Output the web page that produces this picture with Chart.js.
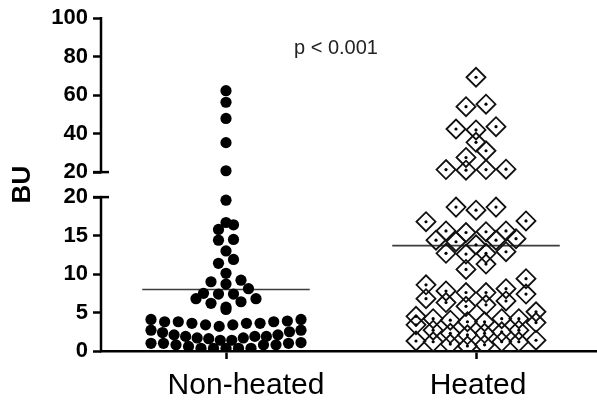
<!DOCTYPE html>
<html>
<head>
<meta charset="utf-8">
<script src="https://cdn.jsdelivr.net/npm/chart.js@4.4.1/dist/chart.umd.min.js"></script>
<style>
  html, body { margin: 0; padding: 0; background: #fff; overflow: hidden; }
  #wrap { width: 597px; height: 401px; }
  #chart { display: block; }
</style>
</head>
<body>
<div id="wrap"><canvas id="chart" width="597" height="401"></canvas></div>
<script>
const categories = ["Non-heated", "Heated"];

// BU values
const nonHeated = [62.3, 56.3, 47.9, 35.3, 20.7, 19.6, 16.7, 16.4, 15.8, 14.5, 14.4, 13.0, 11.9, 11.4, 10.1,
  9.2, 9.0, 8.7, 8.1, 7.5, 7.4, 7.4, 6.8, 6.8, 6.4, 6.2, 5.7, 5.4,
  4.1, 4.1, 3.9, 3.8, 3.8, 3.8, 3.6, 3.6, 3.6, 3.4, 3.4, 3.2,
  2.7, 2.7, 2.5, 2.4, 2.1, 2.1, 1.9, 1.9, 1.9, 1.7, 1.7, 1.6, 1.4, 1.4,
  1.1, 1.0, 1.0, 1.0, 0.8, 0.8, 0.8, 0.6, 0.35, 0.35, 0.35, 0.35, 0.35];
const heated = [69.3, 55.3, 54.0, 43.6, 42.4, 41.9, 35.5, 31.1, 27.6, 21.5, 21.3, 21.3, 21.0,
  18.7, 18.7, 18.3, 16.9, 16.8, 15.6, 15.6, 15.5, 15.4, 14.6, 14.4, 14.4, 14.2, 13.8,
  12.9, 12.7, 12.7, 12.6, 11.3, 10.6, 9.4, 8.6, 8.1, 7.8, 7.6, 7.6, 7.4, 6.8, 6.5, 6.3, 6.0, 5.8, 5.1,
  4.5, 4.2, 4.2, 4.2, 4.0, 3.8, 3.8, 3.7, 3.4, 2.7, 2.7, 2.5, 2.3, 2.3, 2.1,
  1.4, 1.3, 1.2, 1.2, 1.2, 0.9, 0.8, 0.65];
const means = [8.0, 13.7];
const lowerTicks = [0, 5, 10, 15, 20];
const upperTicks = [20, 40, 60, 80, 100];
const pLabel = "p < 0.001";

// broken axis: 0-20 at full scale, a gap, then 20-100 squeezed by 4
const BREAK = 20;
const GAP = 3.25;
const SQUEEZE = 4;
const toLower = (v) => v;
const toUpper = (v) => BREAK + GAP + (v - BREAK) / SQUEEZE;
const toAxis = (v) => (v <= BREAK ? toLower(v) : toUpper(v));
const fromAxis = (t) => (t <= BREAK + GAP / 2 ? t : BREAK + (t - BREAK - GAP) * SQUEEZE);
const AXIS_MAX = toUpper(100);

const FONT = "'Liberation Sans', Arial, Helvetica, sans-serif";
const labelNudge = [20, 2]; // category captions sit a bit right of their tick in the original

function points(values, cat) {
  return values.map((v) => ({ x: cat, y: toAxis(v) }));
}

function meanLine(m, cat) {
  return [{ x: cat - 0.335, y: toAxis(m) }, { x: cat + 0.335, y: toAxis(m) }];
}

const axisBreak = {
  id: "axisBreak",
  beforeDatasetsDraw(chart) {
    const { ctx, chartArea, scales } = chart;
    const y = scales.y;
    const x0 = chartArea.left;
    ctx.save();
    ctx.strokeStyle = "#000";
    ctx.lineWidth = 2.5;
    ctx.lineCap = "butt";
    const segs = [[toLower(0), toLower(BREAK)], [toUpper(BREAK), toUpper(100)]];
    segs.forEach(([a, b]) => {
      ctx.beginPath();
      ctx.moveTo(x0, y.getPixelForValue(a) + 1.2);
      ctx.lineTo(x0, y.getPixelForValue(b) - 1.2);
      ctx.stroke();
    });
    // caps at both ends of the break
    [toLower(BREAK), toUpper(BREAK)].forEach((t) => {
      const py = y.getPixelForValue(t);
      ctx.beginPath();
      ctx.moveTo(x0 - 8, py);
      ctx.lineTo(x0 + 8, py);
      ctx.stroke();
    });
    ctx.restore();
  },
  afterDraw(chart) {
    const { ctx, scales, chartArea } = chart;
    ctx.save();
    ctx.fillStyle = "#222";
    ctx.textAlign = "center";
    ctx.textBaseline = "middle";
    ctx.font = "20px " + FONT;
    ctx.fillText(pLabel, scales.x.getPixelForValue(1.44), chartArea.top + 30);
    ctx.fillStyle = "#000";
    ctx.font = "30px " + FONT;
    categories.forEach((c, i) => {
      ctx.fillText(c, scales.x.getPixelForValue(i + 1) + labelNudge[i], chartArea.bottom + 35);
    });
    ctx.restore();
  }
};

const chart = new Chart(document.getElementById("chart"), {
  type: "scatter",
  data: {
    datasets: [
      {
        label: categories[0] + " mean",
        type: "line",
        data: meanLine(means[0], 1),
        borderColor: "#3c3c3c",
        borderWidth: 1.6,
        pointRadius: 0,
        order: 5
      },
      {
        label: categories[1] + " mean",
        type: "line",
        data: meanLine(means[1], 2),
        borderColor: "#3c3c3c",
        borderWidth: 1.6,
        pointRadius: 0,
        order: 5
      },
      {
        label: categories[0],
        data: points(nonHeated, 1),
        pointStyle: "circle",
        pointRadius: 5.6,
        backgroundColor: "#000",
        borderColor: "#000",
        borderWidth: 0,
        order: 2
      },
      {
        label: categories[1],
        data: points(heated, 2),
        pointStyle: "rectRot",
        pointRadius: 9.5,
        backgroundColor: "rgba(255,255,255,0)",
        borderColor: "#111",
        borderWidth: 1.8,
        order: 1
      },
      {
        label: categories[1] + " centre",
        data: points(heated, 2),
        pointStyle: "circle",
        pointRadius: 1.6,
        backgroundColor: "#000",
        borderWidth: 0,
        order: 0
      }
    ]
  },
  options: {
    responsive: false,
    animation: false,
    layout: { autoPadding: false, padding: { top: 18, left: 7, right: 0, bottom: 2 } },
    plugins: { legend: { display: false }, tooltip: { enabled: false } },
    scales: {
      x: {
        type: "linear",
        min: 0.5,
        max: 2.484,
        afterBuildTicks: (scale) => {
          scale.ticks = categories.map((c, i) => ({ value: i + 1 }));
        },
        afterFit: (scale) => { scale.height = 48; },
        ticks: { display: false },
        grid: { drawOnChartArea: false, tickLength: 8, tickWidth: 2.5, tickColor: "#000" },
        border: { display: true, color: "#000", width: 2.5 }
      },
      y: {
        type: "linear",
        min: 0,
        max: AXIS_MAX,
        afterBuildTicks: (scale) => {
          scale.ticks = lowerTicks.map((v) => ({ value: toLower(v) }))
            .concat(upperTicks.map((v) => ({ value: toUpper(v) })));
        },
        afterFit: (scale) => { scale.width = 94; },
        ticks: {
          autoSkip: false,
          color: "#000",
          padding: 5,
          font: { family: FONT, size: 22, weight: "bold" },
          callback: (value) => String(Math.round(fromAxis(value)))
        },
        grid: { drawOnChartArea: false, tickLength: 8, tickWidth: 2.5, tickColor: "#000" },
        border: { display: false },
        title: {
          display: true,
          text: "BU",
          color: "#000",
          padding: { top: 0, bottom: 15 },
          font: { family: FONT, size: 26, weight: "bold" }
        }
      }
    }
  },
  plugins: [axisBreak]
});

// dot-plot spread: points falling in the same row band are fanned out around the category
function spread(values, cat, rowPx, pitchPx, maxWidth) {
  const xs = chart.scales.x;
  const ys = chart.scales.y;
  const cx = xs.getPixelForValue(cat);
  const base = ys.getPixelForValue(0);
  const rows = new Map();
  values.forEach((v, i) => {
    const r = Math.floor((base - ys.getPixelForValue(toAxis(v))) / rowPx);
    if (!rows.has(r)) rows.set(r, []);
    rows.get(r).push(i);
  });
  const out = new Array(values.length);
  rows.forEach((idx) => {
    idx.sort((a, b) => values[a] - values[b]);
    const n = idx.length;
    const pitch = n > 1 ? Math.min(pitchPx, maxWidth / (n - 1)) : pitchPx;
    idx.forEach((i, k) => {
      const off = n % 2
        ? Math.ceil(k / 2) * (k % 2 ? -1 : 1)
        : (Math.floor(k / 2) + 0.5) * (k % 2 ? 1 : -1);
      out[i] = { x: xs.getValueForPixel(cx + off * pitch), y: toAxis(values[i]) };
    });
  });
  return out;
}

const nhPts = spread(nonHeated, 1, 10.7, 15, 150);
const hPts = spread(heated, 2, 14.6, 20, 120);
chart.data.datasets[2].data = nhPts;
chart.data.datasets[3].data = hPts;
chart.data.datasets[4].data = hPts.map((p) => ({ x: p.x, y: p.y }));
chart.update();
</script>
</body>
</html>
